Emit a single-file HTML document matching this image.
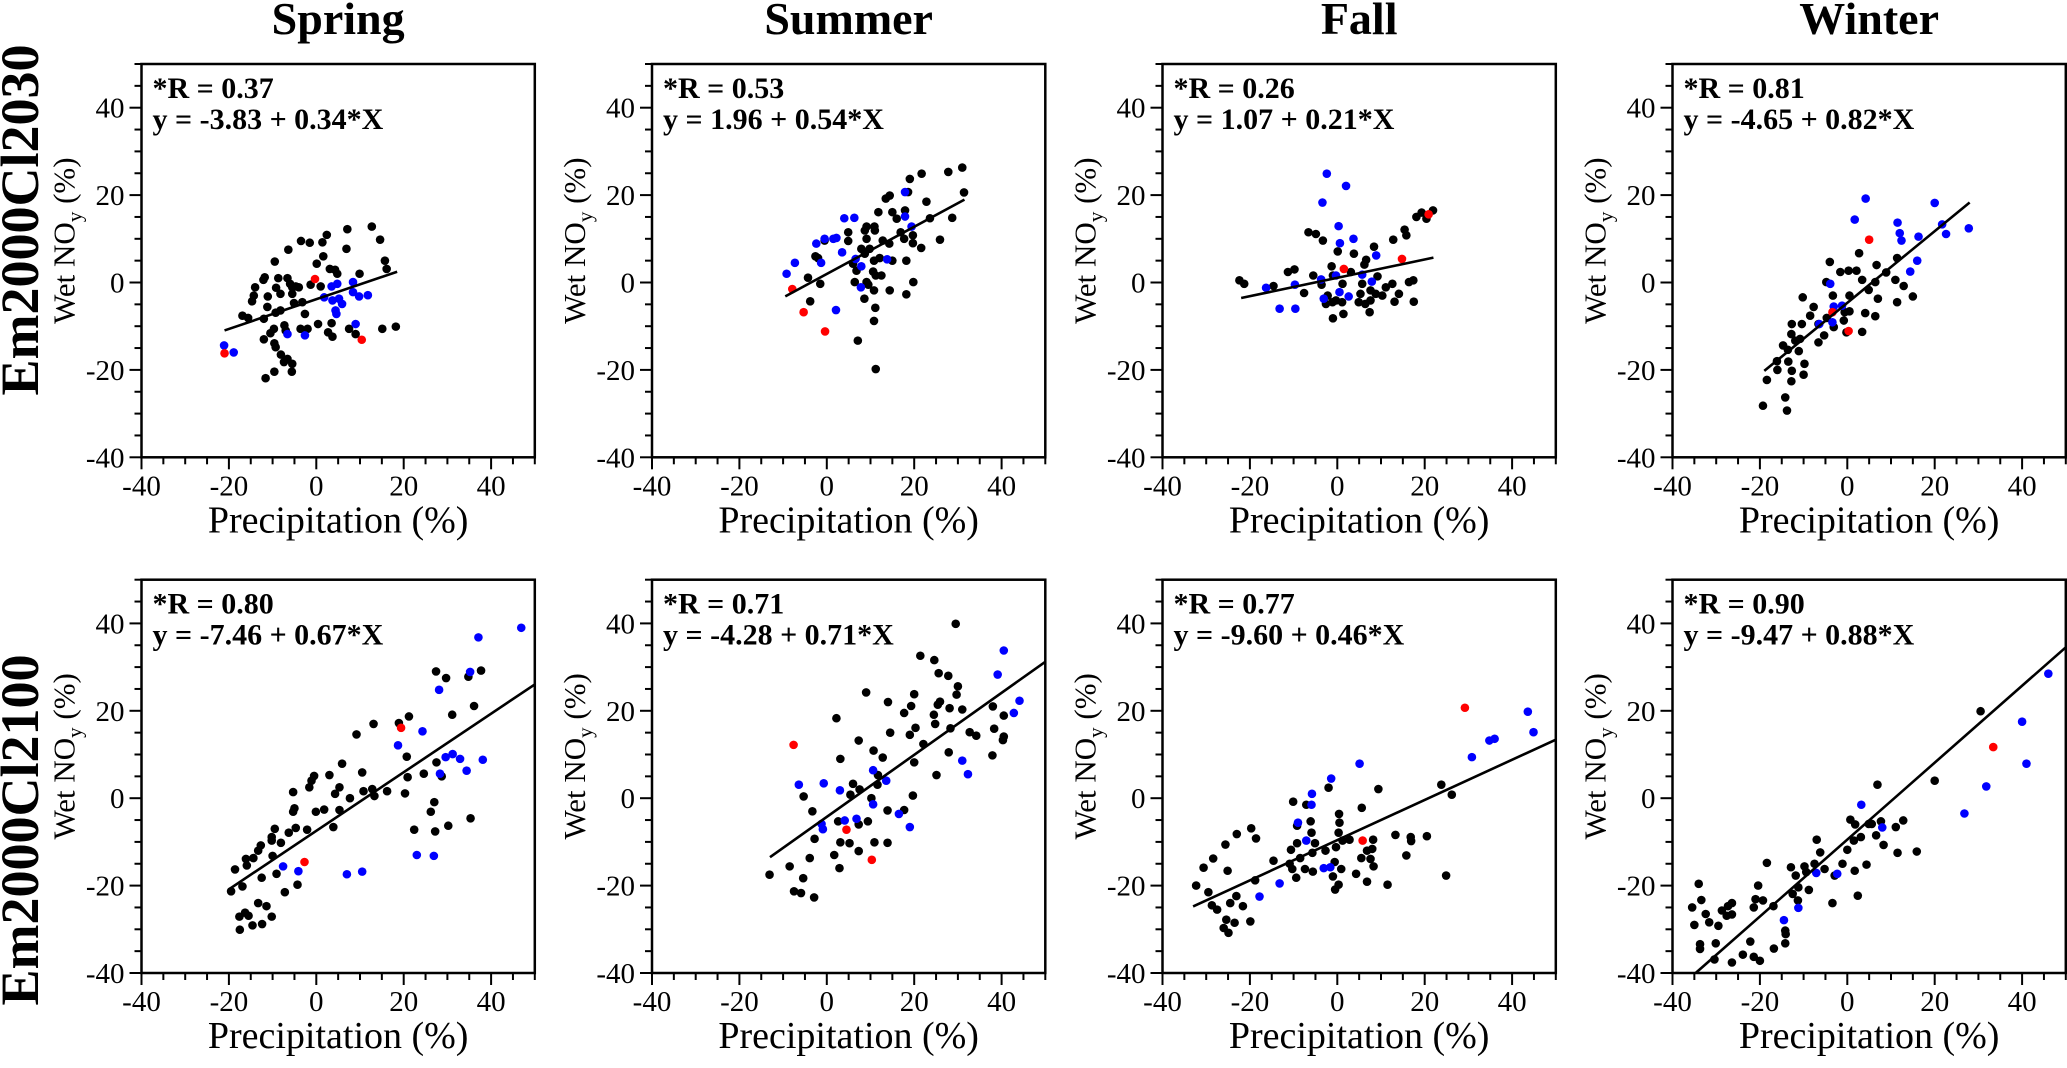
<!DOCTYPE html>
<html><head><meta charset="utf-8"><style>
html,body{margin:0;padding:0;background:#fff;}
svg{display:block;font-family:"Liberation Serif",serif;}
svg text{font-family:"Liberation Serif",serif;}
</style></head><body>
<svg id="fig" width="2067" height="1068" viewBox="0 0 2067 1068" font-family="Liberation Serif, serif" xmlns="http://www.w3.org/2000/svg"></svg>
<script>
// ---------- DATA ----------
const seasons = ["Spring","Summer","Fall","Winter"];
const scenarios = ["Em2000Cl2030","Em2000Cl2100"];
const rValues = ["0.37","0.53","0.26","0.81","0.80","0.71","0.77","0.90"];
const intercepts = [-3.83,1.96,1.07,-4.65,-7.46,-4.28,-9.60,-9.47];
const slopes = [0.34,0.54,0.21,0.82,0.67,0.71,0.46,0.88];
const lineX0 = [-21,-9.5,-22,-19,-20,-13,-33,-34.7];
const lineX1 = [18.5,31.5,22,28,50,50,50,50];
const tickValues = [-40,-20,0,20,40];

const p1BlackX=[-11.6,-9.6,-5.6,-5.5,-7.4,-6.6,-8.1,-9.3,-9.6,-12,-10.5,-9.7,-7.3,-7,-12,-16.9,-15.6,-9.3,-8.2,-11.2,-14.7,-14.3,-14,-11.1,-12.1,-11.8,-8.7,-9.2,-8.2,-6.6,-6,-5.5,-4.7,-4,-5.5,-5.1,-3.2,-2.6,-3.6,-2,0.4,2.7,3.7,3.5,7.5,9,15.1,18.2,-9.5,-6.4,-3.5,-1.5,1.4,2.4,1.6,0.1,-1.3,1,3.1,4.3,4.8,6.9,7.1,9.9,12.7,14.6,15.7,16.1];
const p1BlackY=[-21.9,-20.4,-20.4,-18.6,-18.2,-17.5,-16.5,-14.8,-13.9,-13,-11.6,-10.6,-9.8,-11,-8.3,-7.6,-8.1,-6.9,-6.4,-5.6,-4.3,-3,-1.1,-3.2,0.6,1.2,1,-1.2,-2.6,1,-0.3,-1.1,-0.9,-1.1,-2.6,-4.7,-4.5,-7.2,-10.6,-10.6,-9.5,-11.4,-12.4,-9.3,-10.6,-11.8,-10.6,-10.1,4.8,7.5,9.5,9.1,9.2,10.9,6,4.3,-0.5,-0.9,3.1,2.9,2,7.7,12.2,2,12.8,9.8,5,3.1];
const p1BlueX=[-21.1,-18.9,-6.6,-2.6,1.8,3.5,4.8,3.7,4.4,4.6,5.2,5.9,8.4,8.4,9.8,11.8,9];
const p1BlueY=[-14.4,-16,-11.8,-12.1,-3.4,-0.9,-0.3,-4.1,-6.4,-7.2,-3.7,-4.9,0.1,-2.2,-3.2,-2.9,-9.5];
const p1RedX=[-21,-0.3,10.4];
const p1RedY=[-16.2,0.8,-13.1];

const p2BlackX=[31,27.8,21.7,19,31.4,18.6,14.4,13.5,22.8,17.9,11.8,15,16,23.6,28.7,9.1,10.9,4.9,8.7,11,16.9,17.7,19.7,9.1,4.9,-0.5,12.8,14.3,19.7,25.9,21.6,7.9,9.8,8.7,12.1,15,18.2,-2.6,-2,6,10.8,6.8,10.6,11.2,12.5,-4.3,-1.5,6.4,9.1,9.5,10.8,14.4,19.8,18.2,-3.8,8.6,11.1,10.8,7.1,11.2];
const p2BlackY=[26.3,25.3,24.9,23.7,20.6,20.7,19.9,19.2,18.5,16.5,16.1,16.1,14.6,14.7,14.8,12.8,12.8,11.5,11.9,11.9,11.5,10,10.8,10,9.5,9.6,9.6,8.9,9,9.8,7.9,7.7,7.7,6.6,5.6,5,5,6,5.6,4.3,5,2.7,2.5,1.6,1.6,1.1,-0.3,0.1,0.1,-0.5,-1.8,-1.8,0.1,-2.7,-4.3,-3.7,-5.8,-8.8,-13.3,-19.8];
const p2BlueX=[-9.2,-7.3,-2.4,-0.5,1.5,2.2,4,6.3,3.5,-1.3,6.6,7.9,13.8,17.9,17.9,19.4,7.8,2.1];
const p2BlueY=[2,4.5,8.9,10,10,10.2,14.7,14.8,6.9,4.5,5.4,3.7,5.3,20.7,15.1,12.8,-1.1,-6.3];
const p2RedX=[-7.9,-5.3,-0.4];
const p2RedY=[-1.5,-6.8,-11.2];

const p3BlackX=[-22.4,-21.3,-14.6,-11.3,-9.8,-7.6,-5.5,-6.6,-4.9,-3.3,0.1,-1.3,3.8,8.4,6.6,6.2,3.1,9.2,12.8,15.4,15.8,18.1,19.3,20.4,21.9,16.4,17.4,17.5,13.1,14.1,12.6,11.1,10.3,8.8,7.6,5.7,5.3,4.9,6.4,7.6,7.4,1.4,-1,-2.2,-2.6,-1.1,-0.3,1.1,1.2,-1,-3.6];
const p3BlackY=[0.5,-0.3,-0.8,2.4,3,-2.4,1.6,11.5,11.1,9.6,7.1,3.7,6.6,8.2,5.2,4.1,2.4,1.4,9.8,12.1,10.8,15,16,14.6,16.5,0.1,0.5,-4.4,-4.4,-2.6,-0.3,-1.1,-3,-2.6,-1.8,-0.3,-2.6,-4.5,-4.9,-4.1,-6.8,-7.2,-8.2,-3,-4.9,-4.5,-4.1,-4.5,-0.3,1.6,-0.5];
const p3BlueX=[-2.4,2,-3.4,0.3,0.6,3.7,8.9,5.7,7.9,-0.3,-3.7,-9.7,-16.3,-13.2,-9.6,-3.1,0.5,2.6];
const p3BlueY=[24.9,22.1,18.3,12.9,9,10,6.2,1.8,0.2,1.6,0.7,-0.5,-1.2,-6,-6,-3.7,-2.2,-3.2];
const p3RedX=[1.5,14.8,20.9];
const p3RedY=[3.1,5.4,15.6];

const p4BlackX=[-19.3,-13.8,-14.2,-18.4,-12.8,-16,-13.5,-12.7,-10,-9.8,-16.1,-14.7,-13.6,-11.1,-12.8,-11.9,-10.8,-12.7,-10.4,-8.5,-7.7,-6.6,-6.6,-5.3,-4.7,-3.1,-0.8,-0.6,0.5,-0.2,3.4,4.1,6.4,-10.2,-3.3,0.5,-4.8,-4,-1.6,0.3,2.1,3.4,4.9,6.4,7,6.7,8.9,2.7,11.4,11,12.9,11.4,15];
const p4BlackY=[-28.2,-29.3,-26.3,-22.3,-22.6,-20,-18.1,-20.2,-21.1,-18.6,-18,-14.4,-15.4,-15.7,-11.8,-13.3,-12.9,-9.5,-9.5,-7.6,-5.6,-9.5,-13.7,-12.1,-8.1,-10.2,-8.7,-6.8,-6.6,-11.4,-11.3,-7,-7.7,-3.4,-3,-3,0.1,4.7,2.4,2.7,2.7,0.6,-1.7,0.1,-3.7,4,2.3,6.7,5.6,0.6,-0.8,-4.5,-3.2];
const p4BlueX=[4.2,1.7,11.5,12,12.4,16.3,20,21.7,22.6,27.8,16,14.4,-3.9,-3.1,-1.2,-3.4,-6.4];
const p4BlueY=[19.2,14.4,13.7,11.3,9.6,10.5,18.2,13.3,11.1,12.4,5,2.5,-0.3,-5.5,-5.3,-9.1,-9.5];
const p4RedX=[5,-3.4,0.3];
const p4RedY=[9.8,-6.8,-11.1];

const p5BlackX=[-19.5,-18.6,-16.9,-15.9,-16.1,-14.4,-13.3,-12.7,-10.2,-10.2,-9.5,-8.1,-10,-12.5,-9.1,-7.2,-4.3,-13.3,-11.4,-16.3,-17.6,-15.5,-10.2,-14.6,-12.4,-17.5,-6.3,-4.7,-2.1,-5.3,-5,-0.1,1.8,3.9,5.3,-5.3,-1.6,-1.1,-0.5,3,4.3,5.3,7.7,5.9,9.2,10.5,10.8,12.8,13.3,13.1,16.2,18.9,21.2,20.7,20.9,20.3,22.4,24.6,27,26.2,27.2,30.2,27.5,28.7,31.1,36.1,35.3,27.4,29.7,34.8,37.7];
const p5BlackY=[-21.3,-16.3,-20.2,-15.4,-13.9,-13.7,-12,-10.8,-8.9,-9.7,-7,-10.2,-13.2,-18.2,-17.3,-21.5,-19.8,-24,-24.7,-26.2,-27.1,-26.9,-27.1,-29.1,-28.8,-30.1,-7.9,-6.8,-7.2,-3.1,-2.3,-3.1,-2.6,-6.6,-2.7,1.4,2.5,4,5.1,5.3,1,2.5,0,7.9,14.6,5.9,1.6,2.1,0.5,17,1.6,17.2,18.7,9.5,4.8,1.1,-7.2,5.6,-0.9,-3.1,-7.6,-6.3,8.2,5,19.1,21.1,-4.6,29,27.5,27.8,29.2];
const p5BlueX=[-7.6,-4.1,7,10.5,23,26.9,18.7,24.3,28.1,29.6,31.2,32.9,34.4,38.1,28.3,35.2,37.1,46.9];
const p5BlueY=[-15.6,-16.7,-17.4,-16.8,-13,-13.2,12.1,15.3,24.8,9.4,10.1,9,6.3,8.8,5.6,28.9,36.8,39];
const p5RedX=[-2.7,19.4];
const p5RedY=[-14.6,16.1];

const p6BlackX=[-13.1,-8.5,-5.4,-7.5,-5.9,-2.9,-3.9,-2.8,-5.3,-3.3,1.7,2.9,3.1,5.2,7.3,10.9,13.9,2.6,7.3,9.4,13.9,17.7,19.7,5.4,6,7.5,10.2,11.6,11.7,3.1,10.7,12.8,7.3,2.2,9,14.5,14,17.7,19.3,20,19,20.3,22.1,20,25.1,24.8,24.5,25.4,25.9,28.1,28.3,27.9,31,29.7,30,27.8,25.6,24.6,21.4,29.5,32.7,34.2,38,40.5,38.3,40.5,40.3,37.9];
const p6BlackY=[-17.5,-15.6,-18.3,-21.3,-21.7,-22.7,-13.7,-9.3,0.4,-3,-13,-16,-10.1,-10.3,-12.1,-10.1,-10.2,-5.3,-6,-5.3,-2.8,-2.7,0.6,0.8,3.3,2,0,3.1,5.3,9,10.9,9.3,13.2,18.3,24.2,15,22,19.5,21.1,23.8,14.5,16.1,12.4,8.2,5.3,17,19.1,21.4,22.1,20.6,16,10.5,20.3,23.7,25.6,28,28.6,31.6,32.6,39.9,15.1,14.3,21,18.9,15.9,14.1,13.3,9.8];
const p6BlueX=[-6.4,-0.7,3,-1.2,-0.9,4.1,6.8,10.6,13.6,10.6,16.5,19,31,32.3,39.1,40.5,42.8,44.1];
const p6BlueY=[3.1,3.4,1.8,-5.9,-7.1,-5.1,-4.7,6.4,4,-1.4,-3.6,-6.6,8.6,5.5,28.3,33.8,19.5,22.3];
const p6RedX=[-7.6,4.5,10.3];
const p6RedY=[12.2,-7.2,-14.1];

const p7BlackX=[-32.3,-29.5,-30.6,-28.4,-25.6,-23,-19.7,-18.6,-25.1,-28.7,-27.5,-24.5,-23.1,-21.6,-25.4,-23.5,-26,-24.9,-19.9,-18.8,-14.6,-10.9,-10.3,-9.4,-10.6,-9.2,-8.5,-7.4,-5.6,-5.7,-5.1,-5.9,-6.1,-7.1,-10.1,-9.2,-2.7,-2,0.4,0.5,0.3,-0.3,-0.6,0.9,-1,0.3,-0.5,1.2,2.8,4.3,5.6,5.5,6.8,8,7.6,8.3,8.2,6.8,9.4,11.5,13.3,16.8,16.9,15.8,20.5,23.8,26.2,24.9];
const p7BlackY=[-20,-21.5,-15.9,-13.8,-10.6,-8.2,-6.9,-9.2,-16.6,-24.5,-25.5,-24,-22.4,-24.7,-27.8,-28.5,-29.7,-30.8,-28.2,-18.8,-14.3,-15,-16.2,-18.2,-11.8,-10.3,-13.7,-16.2,-16.8,-12.5,-10.3,-7.9,-5.3,-1.5,-0.8,-6.3,-12,2.4,-3.6,-5.6,-7.9,-11.2,-14.6,-16.2,-17.9,-19.8,-20.9,-9.7,-9.5,-17.3,-2.2,-13.7,-12,-11.6,-13.9,-15.6,-9.5,-19.1,2.1,-19.8,-8.4,-8.9,-9.8,-13.1,-8.7,3.1,0.8,-17.7];
const p7BlueX=[-17.8,-13.2,-9,-7.1,-5.9,-5.8,-1.4,5.1,-3.1,-1.6,30.8,34.8,36,43.6,44.9];
const p7BlueY=[-22.5,-19.5,-5.6,-9.7,-1.5,1,4.5,7.9,-16,-15.8,9.4,13.2,13.6,19.8,15.1];
const p7RedX=[5.8,29.2];
const p7RedY=[-9.7,20.7];

const p8BlackX=[-34,-33.4,-32.4,-31.6,-33.7,-33.7,-30.4,-30.1,-29.5,-28.7,-27.6,-26.4,-26.4,-27.3,-26.4,-23.9,-22.2,-21.4,-20,-21.4,-21,-20.4,-19.3,-16.9,-18.4,-16.8,-14.2,-14.1,-14.2,-12.9,-11.8,-12.5,-11.3,-11.2,-9.8,-8.8,-9.4,-7.5,-7,-6.2,-5.2,-3.4,-2.9,-1.1,0,0.7,1.8,1.5,3.1,1.7,2.4,4.4,4.9,5.6,6.6,6.9,7.7,8.3,11.1,11.5,12.8,15.9,20,30.5,-35.5,-35];
const p8BlackY=[-19.6,-23.3,-26.5,-28.4,-33.4,-34.5,-36.9,-33.2,-29.2,-25.7,-26.9,-26.6,-24,-24.7,-37.6,-35.8,-32.8,-36.3,-37.2,-25,-23.1,-20,-23.4,-24.7,-14.8,-34.4,-33.2,-31.1,-30.3,-15.8,-17.7,-21.9,-23.4,-20.4,-15.6,-21,-16.9,-15,-9.5,-12.4,-16.2,-24,-17.7,-15,-11.8,-4.9,-6,-9.7,-8.9,-16.6,-22.3,-15.2,-5.9,-5.9,-8.5,3.1,-5.3,-10.7,-6.6,-12.5,-5.1,-12.2,4,19.9,-25,-29];
const p8BlueX=[-14.5,-11.2,-7.1,-2.3,3.2,8,26.8,31.8,40,41,46];
const p8BlueY=[-27.9,-25.1,-17.1,-17.3,-1.5,-6.7,-3.5,2.7,17.5,7.9,28.5];
const p8RedX=[33.4];
const p8RedY=[11.7];

const blackXs=[p1BlackX,p2BlackX,p3BlackX,p4BlackX,p5BlackX,p6BlackX,p7BlackX,p8BlackX];
const blackYs=[p1BlackY,p2BlackY,p3BlackY,p4BlackY,p5BlackY,p6BlackY,p7BlackY,p8BlackY];
const blueXs=[p1BlueX,p2BlueX,p3BlueX,p4BlueX,p5BlueX,p6BlueX,p7BlueX,p8BlueX];
const blueYs=[p1BlueY,p2BlueY,p3BlueY,p4BlueY,p5BlueY,p6BlueY,p7BlueY,p8BlueY];
const redXs=[p1RedX,p2RedX,p3RedX,p4RedX,p5RedX,p6RedX,p7RedX,p8RedX];
const redYs=[p1RedY,p2RedY,p3RedY,p4RedY,p5RedY,p6RedY,p7RedY,p8RedY];

// ---------- LAYOUT ----------
const NS="http://www.w3.org/2000/svg";
const svg=document.getElementById('fig');
const colLeft=[141.5,652,1162.5,1672.5];
const rowTop=[64,579.7];
const S=4.37, XMIN=-40, XMAX=50, YMIN=-40, YMAX=50;
const W=(XMAX-XMIN)*S, H=(YMAX-YMIN)*S;
const FONT='Liberation Serif, serif';

function mk(tag,attrs,parent){const e=document.createElementNS(NS,tag);for(const k in attrs)e.setAttribute(k,attrs[k]);if(tag==='text')e.setAttribute('font-family',FONT);(parent||svg).appendChild(e);return e;}

seasons.forEach((s,i)=>{
  const t=mk('text',{x:colLeft[i]+W/2,y:34,'text-anchor':'middle','font-size':46,'font-weight':'bold'});
  
  
  t.textContent=s;
});
const rowCenters=[220,830];
scenarios.forEach((s,r)=>{
  const t=mk('text',{x:0,y:0,transform:`translate(38,${rowCenters[r]}) rotate(-90)`,'text-anchor':'middle','font-size':54,'font-weight':'bold'});
  
  
  t.textContent=s;
});

for(let p=0;p<8;p++){
  const r=Math.floor(p/4), c=p%4;
  const L=colLeft[c], T=rowTop[r];
  const sx=v=>L+(v-XMIN)*S;
  const sy=v=>T+(YMAX-v)*S;
  const g=mk('g',{});
  
  
  const fr=mk('rect',{x:L,y:T,width:W,height:H,fill:'none',stroke:'#000','stroke-width':2.5},g);
  
  
  for(let v=-40; v<=50; v+=5){
    const major=(v%20===0)&&v<=40;
    const len=major?12:7;
    mk('line',{x1:sx(v),y1:T+H,x2:sx(v),y2:T+H+len,stroke:'#000','stroke-width':2},g);
    mk('line',{x1:L,y1:sy(v),x2:L-len,y2:sy(v),stroke:'#000','stroke-width':2},g);
  }
  tickValues.forEach(v=>{
    const tx=mk('text',{x:sx(v),y:T+H+38,'text-anchor':'middle','font-size':29},g);
    
    
    tx.textContent=v;
    const ty=mk('text',{x:L-17,y:sy(v)+10,'text-anchor':'end','font-size':29},g);
    
    
    ty.textContent=v;
  });
  const xt=mk('text',{x:L+W/2,y:T+H+75,'text-anchor':'middle','font-size':38},g);
  
  
  xt.textContent='Precipitation (%)';
  const yt=mk('text',{x:0,y:0,transform:`translate(${L-67},${T+H/2-20}) rotate(-90)`,'text-anchor':'middle','font-size':31},g);
  
  
  yt.innerHTML='Wet NO<tspan dy="7" font-size="21">y</tspan><tspan dy="-7"> (%)</tspan>';
  const a1=mk('text',{x:L+11,y:T+34,'font-size':30,'font-weight':'bold'},g);
  
  
  a1.textContent='*R = '+rValues[p];
  const b=intercepts[p], m=slopes[p];
  const a2=mk('text',{x:L+11,y:T+65,'font-size':30,'font-weight':'bold'},g);
  
  
  a2.textContent='y = '+b.toFixed(2)+' + '+m.toFixed(2)+'*X';
  const series=[[blackXs[p],blackYs[p],'#000','black'],[blueXs[p],blueYs[p],'#0000ff','blue'],[redXs[p],redYs[p],'#ff0000','red']];
  series.forEach(([xs,ys,col,nm])=>{
    xs.forEach((xv,i)=>{
      const cc=mk('circle',{cx:sx(xv),cy:sy(ys[i]),r:4.3,fill:col},g);
      
      
    });
  });
  const x0=lineX0[p], x1=lineX1[p];
  const ln=mk('line',{x1:sx(x0),y1:sy(b+m*x0),x2:sx(x1),y2:sy(b+m*x1),stroke:'#000','stroke-width':2.6},g);
  
  
}
</script>
</body></html>
